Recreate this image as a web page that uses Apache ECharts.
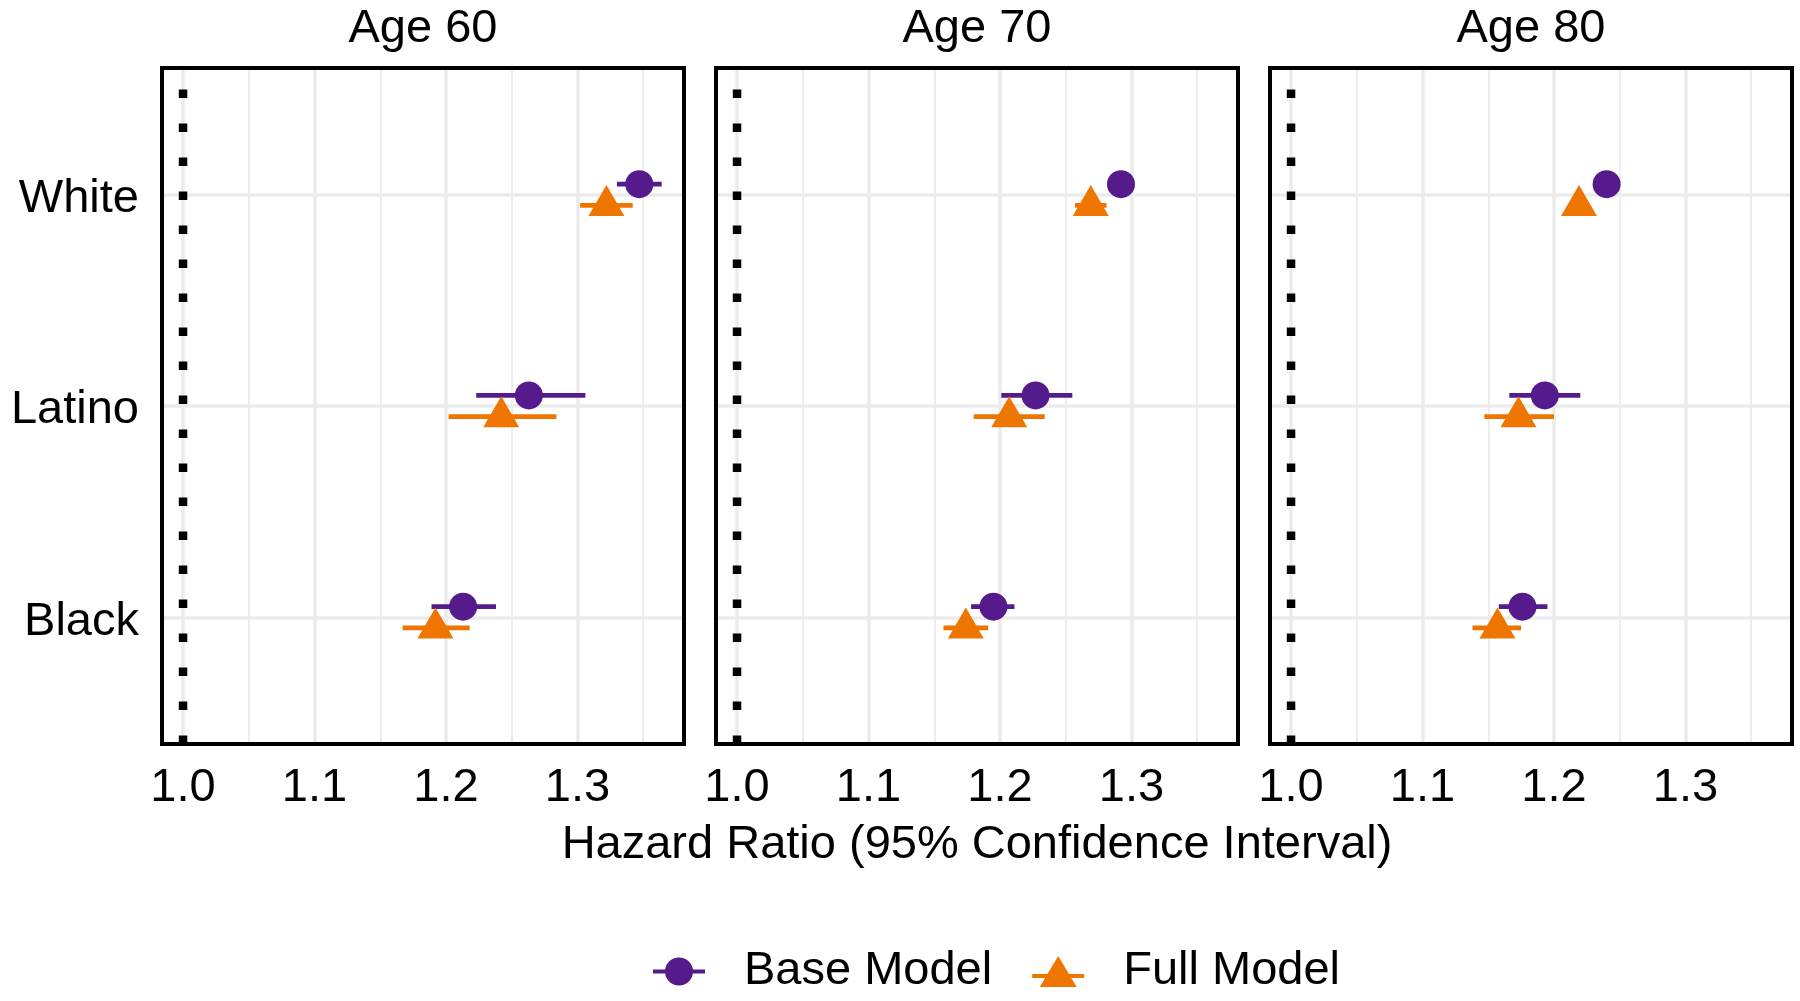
<!DOCTYPE html>
<html>
<head>
<meta charset="utf-8">
<script src="https://cdn.jsdelivr.net/npm/echarts@6/dist/echarts.min.js"></script>
<style>
html,body{margin:0;padding:0;background:#fff;}
#chart{width:1800px;height:1001px;}
</style>
</head>
<body>
<div id="chart"></div>
<script>
// ---- data ----
const panels = ['Age 60', 'Age 70', 'Age 80'];
const categories = ['White', 'Latino', 'Black'];
const models = ['Base Model', 'Full Model'];
const xTicks = [1.0, 1.1, 1.2, 1.3];
const xMinorTicks = [1.05, 1.15, 1.25, 1.35];
const refValue = 1.0;

// hazard ratios [panel][category]
const baseHR = [[1.347, 1.263, 1.213], [1.292, 1.227, 1.195], [1.240, 1.193, 1.176]];
const baseLo = [[1.330, 1.223, 1.189], [1.286, 1.201, 1.178], [1.234, 1.166, 1.158]];
const baseHi = [[1.364, 1.306, 1.238], [1.298, 1.255, 1.211], [1.246, 1.220, 1.195]];
const fullHR = [[1.322, 1.242, 1.192], [1.269, 1.207, 1.174], [1.219, 1.173, 1.157]];
const fullLo = [[1.302, 1.202, 1.167], [1.257, 1.180, 1.157], [1.213, 1.147, 1.138]];
const fullHi = [[1.342, 1.284, 1.218], [1.281, 1.234, 1.191], [1.225, 1.200, 1.175]];

// ---- styling / layout ----
const FONT = '"Liberation Sans", Arial, Helvetica, sans-serif';
const FS = 47;
const colors = { 'Base Model': '#551A8B', 'Full Model': '#EE7600' };
const gridLeft = [162, 716, 1270];
const gridWidth = 522, gridTop = 68, gridHeight = 676;
const xMin = 0.984, xMax = 1.381;
const yMin = 0.4, yMax = 3.6;
const dodge = 0.05;
const nCat = categories.length;
const catY = i => nCat - i; // White at top

const grids = [], xAxes = [], yAxes = [], series = [], graphics = [];

panels.forEach((p, k) => {
  grids.push({ left: gridLeft[k], top: gridTop, width: gridWidth, height: gridHeight,
    show: true, borderColor: '#000', borderWidth: 4, backgroundColor: 'transparent', z: 10 });
  xAxes.push({
    type: 'value', gridIndex: k, min: xMin, max: xMax,
    axisLine: { show: false }, axisTick: { show: false }, splitLine: { show: false },
    axisLabel: { customValues: xTicks, formatter: v => Number(v).toFixed(1), fontSize: FS,
      fontFamily: FONT, color: '#000', margin: 21, lineHeight: FS },
    name: k === 1 ? 'Hazard Ratio (95% Confidence Interval)' : '',
    nameLocation: 'middle', nameGap: 78,
    nameTextStyle: { fontSize: FS, fontFamily: FONT, color: '#000', lineHeight: FS }
  });
  yAxes.push({
    type: 'value', gridIndex: k, min: yMin, max: yMax,
    axisLine: { show: false }, axisTick: { show: false }, splitLine: { show: false },
    axisLabel: { show: k === 0, customValues: categories.map((c, i) => catY(i)),
      formatter: v => '{c|' + categories[nCat - Math.round(v)] + '}',
      rich: { c: { fontSize: FS, fontFamily: FONT, color: '#000', lineHeight: FS, padding: [9, 0, 0, 0] } },
      fontSize: FS, fontFamily: FONT, color: '#000', margin: 23 }
  });
  // gridlines (drawn through the axes via markLine), kept beneath everything
  series.push({
    type: 'line', xAxisIndex: k, yAxisIndex: k, data: [], silent: true, z: 0, zlevel: 0,
    markLine: {
      z: 0, silent: true, symbol: ['none', 'none'], label: { show: false }, animation: false,
      data: [
        ...xTicks.map(v => ({ xAxis: v, lineStyle: { color: '#EBEBEB', width: 3.5, type: 'solid' } })),
        ...xMinorTicks.map(v => ({ xAxis: v, lineStyle: { color: '#EBEBEB', width: 1.8, type: 'solid' } })),
        ...categories.map((c, i) => ({ yAxis: catY(i), lineStyle: { color: '#EBEBEB', width: 3.5, type: 'solid' } }))
      ]
    }
  });
  // reference line at HR = 1 (dotted), drawn bottom -> top
  series.push({
    type: 'custom', name: 'ref', xAxisIndex: k, yAxisIndex: k, z: 2, silent: true,
    data: [[refValue]], encode: { x: 0 },
    renderItem: (params, api) => {
      const a = api.coord([api.value(0), yMin]);
      const b = api.coord([api.value(0), yMax]);
      return { type: 'line', shape: { x1: a[0], y1: a[1], x2: b[0], y2: b[1] },
        style: { stroke: '#000', lineWidth: 8.5, lineDash: [8.5, 25.5], lineCap: 'butt', fill: null } };
    }
  });
  // error bars + points
  [['Base Model', baseHR, baseLo, baseHi, dodge], ['Full Model', fullHR, fullLo, fullHi, -dodge]].forEach(([m, hr, lo, hi, off]) => {
    const col = colors[m];
    series.push({
      type: 'custom', name: m + ' CI', xAxisIndex: k, yAxisIndex: k, z: 3, silent: true,
      data: categories.map((c, i) => [lo[k][i], hi[k][i], catY(i) + off]),
      encode: { x: [0, 1], y: 2 },
      renderItem: (params, api) => {
        const a = api.coord([api.value(0), api.value(2)]);
        const b = api.coord([api.value(1), api.value(2)]);
        return { type: 'line', shape: { x1: a[0], y1: a[1], x2: b[0], y2: b[1] },
          style: { stroke: col, lineWidth: 4.7, lineCap: 'butt', fill: null } };
      }
    });
    series.push({
      type: 'scatter', name: m, xAxisIndex: k, yAxisIndex: k, z: 4, silent: true,
      data: categories.map((c, i) => [hr[k][i], catY(i) + off]),
      symbol: m === 'Base Model' ? 'circle' : 'triangle',
      symbolSize: m === 'Base Model' ? 28 : [36, 31],
      symbolOffset: m === 'Base Model' ? [0, 0] : [0, -4.7],
      itemStyle: { color: col, opacity: 1, borderWidth: 0, shadowBlur: 0 },
      emphasis: { disabled: true }
    });
  });
  graphics.push({
    type: 'text', x: gridLeft[k] + gridWidth / 2, y: 29, silent: true,
    style: { text: p, fill: '#000', font: FS + 'px ' + FONT, textAlign: 'center', textVerticalAlign: 'middle',
      align: 'center', verticalAlign: 'middle' }
  });
});

const chart = echarts.init(document.getElementById('chart'), null, { renderer: 'canvas' });
chart.setOption({
  animation: false,
  backgroundColor: '#fff',
  grid: grids, xAxis: xAxes, yAxis: yAxes, series: series,
  graphic: graphics,
  legend: {
    data: [
      { name: 'Base Model', icon: 'path://M0,12H52V16H0Z M12,14A14,14 0 1,1 40,14A14,14 0 1,1 12,14Z' },
      { name: 'Full Model', icon: 'path://M0,18H52V22H0Z M26,0L44.5,31H7.5Z' }
    ],
    left: 648, top: 943, itemWidth: 52, itemHeight: 31, itemGap: 40,
    symbolKeepAspect: true, selectedMode: false,
    textStyle: { fontSize: FS, fontFamily: FONT, color: '#000', lineHeight: FS, padding: [0, 0, 0, 34] }
  }
});
</script>
</body>
</html>
